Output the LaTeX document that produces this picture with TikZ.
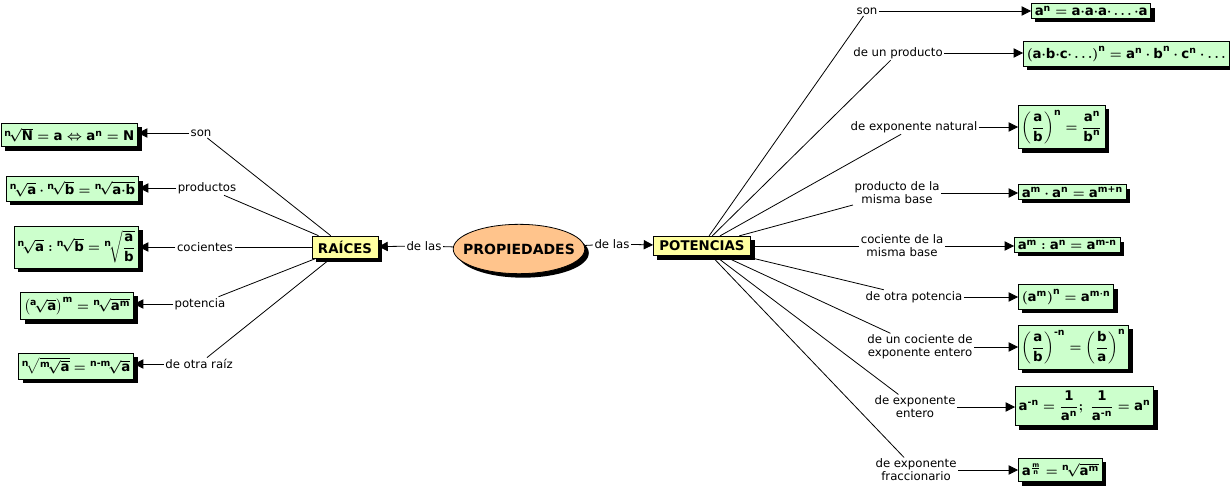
\documentclass[tikz,border=0pt]{standalone}
\usepackage{amsmath}
\usepackage{fontspec}
\setmainfont{DejaVu Sans}
\usetikzlibrary{arrows.meta,shadows,shapes.geometric}
\definecolor{hubyellow}{RGB}{255,255,160}
\definecolor{fmlgreen}{RGB}{204,255,204}
\definecolor{peach}{RGB}{255,196,140}
\newcommand{\tx}[1]{\text{#1}}
\newcommand{\rt}[2]{{}^{\tx{#1}}\!\sqrt{#2}}

\begin{document}
\begin{tikzpicture}[x=0.75pt,y=-0.75pt,
  lbl/.style={font=\fontsize{8.8}{9.6}\selectfont,inner sep=1pt,align=center},
  hub/.style={draw,line width=0.6pt,fill=hubyellow,inner xsep=4.5pt,inner ysep=3.5pt,
    font=\fontsize{10}{12}\selectfont\bfseries,
    drop shadow={shadow xshift=3pt,shadow yshift=-3pt,fill=black,opacity=1}},
  fml/.style={draw,line width=0.6pt,fill=fmlgreen,inner xsep=2.5pt,inner ysep=3.5pt,
    font=\fontsize{10}{12}\selectfont\bfseries\boldmath,
    drop shadow={shadow xshift=3pt,shadow yshift=-3pt,fill=black,opacity=1}},
  link/.style={line width=0.6pt},
  arr/.style={line width=0.6pt,-{Triangle[length=7pt,width=7pt]}}]
  \useasboundingbox (0,0) rectangle (1230,489);

  % centre
  \node[ellipse,draw,line width=0.6pt,fill=peach,minimum height=37pt,
    inner xsep=-7pt,inner ysep=0pt,font=\fontsize{10.5}{12}\selectfont\bfseries,
    drop shadow={shadow xshift=3pt,shadow yshift=-3pt,fill=black,opacity=1}]
    (prop) at (519,249) {PROPIEDADES};
  \node[hub] (raices) at (345,247) {RAÍCES};
  \node[hub] (potencias) at (702,246) {POTENCIAS};
  \node[lbl] (dlraiz) at (424,246) {de las};
  \node[lbl] (dlpot) at (612,244) {de las};
  \draw[link] (prop) -- (dlraiz);
  \draw[arr] (dlraiz) -- (raices);
  \draw[link] (prop) -- (dlpot);
  \draw[arr] (dlpot) -- (potencias);

  % raices
  \node[lbl] (lson) at (201,133) {son};
  \node[lbl] (lprod) at (207,188) {productos};
  \node[lbl] (lcoc) at (205,247) {cocientes};
  \node[lbl] (lpot) at (200,304) {potencia};
  \node[lbl] (lraiz) at (199,364) {de otra raíz};
  \node[fml,anchor=east] (bson) at (138,135) {$\rt{n}{\tx{N}}=\tx{a}\Leftrightarrow\tx{a}^{\tx{n}}=\tx{N}$};
  \node[fml,anchor=east] (bprod) at (139,189) {$\rt{n}{\tx{a}}\cdot\rt{n}{\tx{b}}=\rt{n}{\tx{a}{\cdot}\tx{b}}$};
  \node[fml,anchor=east] (bcoc) at (139,247) {$\rt{n}{\tx{a}}:\rt{n}{\tx{b}}=\rt{n}{\dfrac{\tx{a}}{\tx{b}}}$};
  \node[fml,anchor=east] (bpot) at (134,306) {$\left(\rt{a}{\tx{a}}\right)^{\tx{m}}=\rt{n}{\tx{a}^{\tx{m}}}$};
  \node[fml,anchor=east] (braiz) at (134,366) {$\rt{n}{\rt{m}{\tx{a}}}=\rt{n-m}{\tx{a}}$};
  \foreach \l/\b in {lson/bson,lprod/bprod,lcoc/bcoc,lpot/bpot,lraiz/braiz}{
    \draw[link] (raices) -- (\l);
    \draw[arr] (\l) -- (\l -| \b.east);
  }

  % potencias
  \node[lbl] (rson) at (867,11) {son};
  \node[lbl] (rprod) at (898,53) {de un producto};
  \node[lbl] (rnat) at (914,127) {de exponente natural};
  \node[lbl] (rmult) at (897,193) {producto de la\\misma base};
  \node[lbl] (rdiv) at (902,246) {cociente de la\\misma base};
  \node[lbl] (rpot) at (914,297) {de otra potencia};
  \node[lbl] (rcoc) at (920,347) {de un cociente de\\exponente entero};
  \node[lbl] (rent) at (915,407) {de exponente\\entero};
  \node[lbl] (rfrac) at (916,470) {de exponente\\fraccionario};
  \node[fml,anchor=west,inner ysep=1.5pt] (cson) at (1031,11) {$\tx{a}^{\tx{n}}=\tx{a}{\cdot}\tx{a}{\cdot}\tx{a}{\cdot}\ldots{\cdot}\tx{a}$};
  \node[fml,anchor=west] (cprod) at (1023,54) {$\left(\tx{a}{\cdot}\tx{b}{\cdot}\tx{c}{\cdot}\ldots\right)^{\tx{n}}=\tx{a}^{\tx{n}}\cdot\tx{b}^{\tx{n}}\cdot\tx{c}^{\tx{n}}\cdot\ldots$};
  \node[fml,anchor=west] (cnat) at (1018,127) {$\left(\dfrac{\tx{a}}{\tx{b}}\right)^{\tx{n}}=\dfrac{\tx{a}^{\tx{n}}}{\tx{b}^{\tx{n}}}$};
  \node[fml,anchor=west,inner ysep=1.5pt] (cmult) at (1018,192) {$\tx{a}^{\tx{m}}\cdot\tx{a}^{\tx{n}}=\tx{a}^{\tx{m+n}}$};
  \node[fml,anchor=west,inner ysep=1.5pt] (cdiv) at (1014,245) {$\tx{a}^{\tx{m}}:\tx{a}^{\tx{n}}=\tx{a}^{\tx{m-n}}$};
  \node[fml,anchor=west] (cpot) at (1018,297) {$\left(\tx{a}^{\tx{m}}\right)^{\tx{n}}=\tx{a}^{\tx{m}\cdot\tx{n}}$};
  \node[fml,anchor=west] (ccoc) at (1018,347) {$\left(\dfrac{\tx{a}}{\tx{b}}\right)^{\tx{-n}}=\left(\dfrac{\tx{b}}{\tx{a}}\right)^{\tx{n}}$};
  \node[fml,anchor=west] (cent) at (1015,406) {$\tx{a}^{\tx{-n}}=\dfrac{\tx{1}}{\tx{a}^{\tx{n}}};\ \dfrac{\tx{1}}{\tx{a}^{\tx{-n}}}=\tx{a}^{\tx{n}}$};
  \node[fml,anchor=west] (cfrac) at (1018,470) {$\tx{a}^{\frac{\tx{m}}{\tx{n}}}=\rt{n}{\tx{a}^{\tx{m}}}$};
  \foreach \l/\b in {rson/cson,rprod/cprod,rnat/cnat,rmult/cmult,rdiv/cdiv,rpot/cpot,rcoc/ccoc,rent/cent,rfrac/cfrac}{
    \draw[link] (potencias) -- (\l);
    \draw[arr] (\l) -- (\l -| \b.west);
  }
\end{tikzpicture}
\end{document}
